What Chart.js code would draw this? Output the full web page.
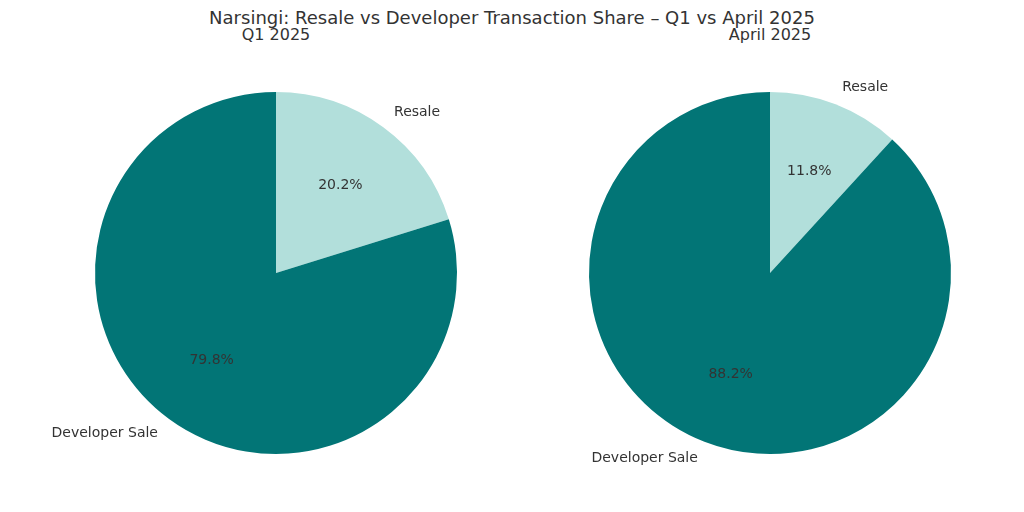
<!DOCTYPE html>
<html><head><meta charset="utf-8">
<script src="https://cdn.jsdelivr.net/npm/chart.js@4"></script>
<style>
body{margin:0;width:1024px;height:512px;background:#fff;position:relative;overflow:hidden;font-family:"DejaVu Sans",sans-serif;color:#333}
.t{position:absolute;text-align:center;white-space:nowrap}
canvas{position:absolute;top:0}
</style></head><body>
<div class="t" style="left:0;width:1024px;top:7px;font-size:18px">Narsingi: Resale vs Developer Transaction Share – Q1 vs April 2025</div>
<div class="t" style="left:176px;width:200px;top:25px;font-size:16px">Q1 2025</div>
<div class="t" style="left:670px;width:200px;top:25px;font-size:16px">April 2025</div>
<div style="position:absolute;left:20px;top:0;width:512px;height:512px"><canvas id="c1"></canvas></div>
<div style="position:absolute;left:514px;top:0;width:512px;height:512px"><canvas id="c2"></canvas></div>
<script>
const categories = ["Resale", "Developer Sale"];
const q1Values = [20.2, 79.8];
const aprilValues = [11.8, 88.2];
const colors = ["#b2dfdb", "#027576"];

const labelPlugin = {
  id: 'lbl',
  afterDraw(chart) {
    const ctx = chart.ctx;
    const meta = chart.getDatasetMeta(0);
    const vals = chart.data.datasets[0].data;
    const tot = vals.reduce((a, b) => a + b, 0);
    ctx.save();
    ctx.font = '14px "DejaVu Sans", sans-serif';
    ctx.fillStyle = '#333';
    ctx.textBaseline = 'middle';
    meta.data.forEach((arc, i) => {
      const mid = (arc.startAngle + arc.endAngle) / 2;
      const r = arc.outerRadius;
      const cx = arc.x, cy = arc.y;
      const px = cx + Math.cos(mid) * r * 0.6, py = cy + Math.sin(mid) * r * 0.6;
      ctx.textAlign = 'center';
      ctx.fillText((vals[i] / tot * 100).toFixed(1) + '%', px, py);
      const lx = cx + Math.cos(mid) * r * 1.1, ly = cy + Math.sin(mid) * r * 1.1;
      ctx.textAlign = Math.cos(mid) >= 0 ? 'left' : 'right';
      ctx.fillText(chart.data.labels[i], lx, ly);
    });
    ctx.restore();
  }
};

function make(id, vals) {
  new Chart(document.getElementById(id), {
    type: 'pie',
    data: { labels: categories, datasets: [{ data: vals, backgroundColor: colors, borderWidth: 0 }] },
    options: {
      responsive: true, maintainAspectRatio: false, animation: false,
      layout: { padding: { top: 92, bottom: 58, left: 75, right: 75 } },
      plugins: { legend: { display: false }, tooltip: { enabled: false } }
    },
    plugins: [labelPlugin]
  });
}
make('c1', q1Values);
make('c2', aprilValues);
</script>
</body></html>
